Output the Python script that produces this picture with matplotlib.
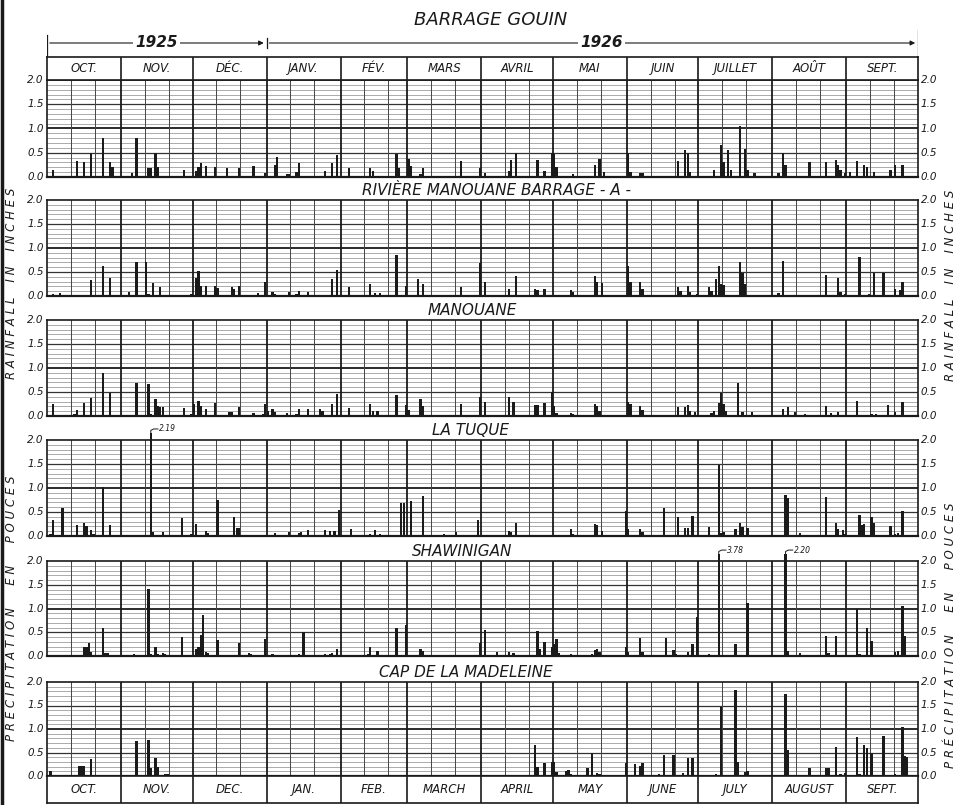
import numpy as np
import matplotlib
matplotlib.use('Agg')
import matplotlib.pyplot as plt

W, H = 964, 805

month_days = [31, 30, 31, 31, 28, 31, 30, 31, 30, 31, 31, 30]
months_fr = ['OCT.', 'NOV.', 'DÉC.', 'JANV.', 'FÉV.', 'MARS', 'AVRIL', 'MAI',
             'JUIN', 'JUILLET', 'AOÛT', 'SEPT.']
months_en = ['OCT.', 'NOV.', 'DEC.', 'JAN.', 'FEB.', 'MARCH', 'APRIL', 'MAY',
             'JUNE', 'JULY', 'AUGUST', 'SEPT.']
y_labels = ['0.0', '0.5', '1.0', '1.5', '2.0']

# daily rainfall (inches), (day counted from 1 Oct 1925, value)
gouin = [(2, .15), (12, .34), (15, .30), (18, .49), (23, .80), (26, .30), (27, .20),
         (35, .08), (37, .80), (42, .18), (43, .18), (45, .50), (46, .20), (57, .15),
         (62, .12), (63, .20), (64, .28), (66, .22), (70, .20), (75, .18), (80, .18), (86, .22),
         (91, .08), (95, .25), (96, .42), (100, .06), (101, .06), (104, .10), (105, .28),
         (116, .12), (119, .28), (121, .45), (126, .18), (135, .18), (136, .12), (146, .48),
         (147, .18), (151, .38), (152, .22), (156, .06), (157, .18), (173, .33), (181, .18),
         (183, .08), (193, .12), (194, .35), (196, .50), (205, .36), (208, .12), (211, .50),
         (212, .48), (213, .20), (220, .06), (229, .25), (231, .38), (233, .10), (243, .50),
         (244, .10), (248, .08), (249, .08), (264, .34), (267, .55), (268, .50), (269, .10),
         (279, .15), (282, .65), (283, .30), (285, .55), (286, .15), (290, 1.05), (292, .58),
         (293, .15), (296, .08), (306, .08), (308, .50), (309, .25), (319, .30), (326, .30),
         (330, .35), (331, .25), (332, .15), (334, .08), (336, .10), (339, .32), (342, .25),
         (343, .20), (346, .10), (353, .15), (355, .25), (358, .25)]

barrage_a = [(2, .05), (5, .06), (7, .03), (10, .02), (12, .02), (13, .02), (18, .33), (19, .03),
             (23, .62), (26, .38), (34, .08), (37, .70), (41, .70), (42, .05), (44, .27), (47, .18),
             (60, .05), (62, .38), (63, .52), (64, .20), (66, .20), (70, .20), (71, .16), (77, .18),
             (78, .15), (80, .20), (88, .06), (91, .30), (94, .08), (95, .05), (101, .08), (104, .05),
             (105, .10), (109, .08), (119, .35), (121, .55), (122, .03), (126, .18), (135, .25),
             (137, .06), (139, .06), (146, .85), (150, .20), (155, .35), (157, .25), (167, .02),
             (173, .18), (181, .68), (183, .30), (193, .15), (196, .42), (204, .15), (205, .12),
             (208, .14), (219, .13), (220, .08), (229, .42), (230, .30), (232, .28), (243, .62),
             (244, .30), (248, .30), (249, .15), (264, .18), (265, .10), (268, .20), (269, .08),
             (272, .05), (277, .18), (278, .10), (280, .35), (281, .62), (282, .25), (283, .22),
             (290, .70), (291, .48), (292, .25), (306, .07), (308, .72), (326, .43), (331, .38),
             (332, .08), (334, .05), (340, .82), (344, .05), (346, .47), (350, .47), (355, .15),
             (357, .12), (358, .30)]

manouane = [(2, .26), (10, .02), (11, .04), (12, .12), (15, .27), (18, .38), (23, .89), (26, .47),
            (34, .01), (37, .68), (42, .67), (43, .05), (45, .35), (46, .20), (47, .18), (48, .18),
            (57, .17), (60, .05), (61, .25), (63, .32), (64, .20), (66, .15), (70, .27), (76, .08),
            (77, .08), (80, .18), (86, .06), (90, .05), (91, .25), (92, .10), (94, .15), (95, .08),
            (100, .06), (104, .05), (105, .15), (109, .15), (114, .15), (115, .10), (119, .25),
            (121, .45), (126, .16), (135, .25), (136, .10), (138, .10), (146, .43), (150, .22),
            (151, .12), (156, .35), (157, .20), (173, .24), (181, .40), (183, .30), (193, .40),
            (195, .30), (204, .22), (205, .22), (208, .28), (211, .50), (212, .20), (213, .07),
            (219, .07), (220, .05), (229, .25), (230, .20), (231, .10), (234, .03), (243, .30),
            (244, .25), (248, .20), (249, .12), (264, .18), (267, .18), (268, .22), (269, .10),
            (271, .08), (278, .07), (279, .10), (281, .28), (282, .48), (283, .25), (284, .10),
            (289, .68), (291, .08), (295, .08), (308, .15), (310, .18), (313, .08), (317, .05),
            (326, .20), (328, .06), (331, .08), (339, .32), (345, .05), (347, .05), (352, .22),
            (355, .08), (358, .30)]

la_tuque = [(1, .05), (2, .33), (6, .58), (9, .02), (12, .22), (15, .27), (16, .20), (18, .12),
            (19, .05), (23, 1.03), (26, .22), (33, .02), (43, 2.19), (44, .08), (48, .08),
            (56, .37), (60, .04), (62, .26), (66, .10), (67, .06), (71, .76), (78, .40), (79, .17),
            (80, .16), (95, .06), (101, .08), (105, .06), (106, .08), (109, .12), (116, .12),
            (118, .10), (120, .10), (122, .55), (127, .15), (135, .05), (137, .12), (139, .05),
            (148, .68), (149, .68), (152, .73), (157, .83), (166, .05), (171, .08), (180, .33),
            (193, .10), (194, .08), (196, .27), (219, .15), (220, .05), (227, .03), (229, .25),
            (230, .22), (232, .10), (235, .02), (242, .52), (243, .15), (248, .15), (249, .08),
            (258, .58), (261, .03), (264, .40), (267, .16), (268, .16), (270, .42), (277, .18),
            (281, 1.47), (282, .06), (283, .08), (288, .15), (290, .28), (291, .18), (293, .16),
            (309, .85), (310, .80), (315, .06), (326, .82), (330, .28), (331, .15), (333, .12),
            (334, .05), (340, .43), (341, .22), (342, .25), (345, .40), (346, .28), (353, .20),
            (355, .05), (356, .06), (358, .53)]

shawinigan = [(1, .02), (3, .02), (5, .02), (7, .02), (15, .18), (16, .20), (17, .28), (18, .08),
              (19, .03), (23, .58), (24, .06), (25, .06), (33, .02), (36, .05), (42, 1.42),
              (43, .05), (45, .18), (46, .05), (48, .06), (49, .05), (52, .03), (56, .40),
              (62, .15), (63, .20), (64, .45), (65, .87), (66, .08), (67, .06), (71, .33), (77, .02),
              (80, .27), (84, .06), (85, .04), (91, .35), (94, .05), (101, .02), (103, .02),
              (105, .05), (107, .50), (108, .03), (110, .02), (112, .02), (116, .05), (118, .05),
              (119, .06), (121, .14), (124, .02), (125, .02), (134, .05), (135, .18), (138, .10),
              (146, .60), (150, .65), (151, .02), (156, .15), (157, .10), (164, .02), (168, .02),
              (174, .02), (181, .28), (183, .55), (188, .08), (189, .03), (193, .08), (195, .06),
              (196, .03), (205, .53), (206, .15), (208, .30), (211, .20), (212, .25), (213, .35),
              (214, .06), (219, .05), (228, .05), (229, .12), (230, .14), (231, .08), (236, .03),
              (242, .20), (243, .08), (248, .38), (249, .08), (259, .38), (262, .12), (263, .05),
              (268, .08), (270, .25), (272, .83), (277, .05), (281, 3.78), (288, .25), (293, 1.12),
              (295, .02), (300, .02), (309, 2.20), (310, .10), (315, .06), (318, .02), (326, .42),
              (327, .06), (330, .42), (332, .03), (334, .02), (339, .98), (340, .04), (343, .58),
              (345, .32), (355, .08), (356, .10), (358, 1.05), (359, .42)]

cap_madeleine = [(1, .10), (6, .03), (13, .22), (14, .22), (15, .22), (18, .37), (35, .02),
                 (37, .75), (42, .77), (43, .18), (45, .38), (46, .20), (49, .05), (50, .05),
                 (194, .02), (204, .66), (205, .20), (208, .28), (211, .30), (212, .30), (213, .08),
                 (217, .10), (218, .13), (219, .05), (226, .18), (228, .48), (230, .07), (231, .05),
                 (242, .27), (246, .25), (248, .22), (249, .28), (256, .05), (258, .45), (262, .45),
                 (266, .06), (268, .38), (270, .38), (277, .02), (279, .02), (280, .05), (282, 1.47),
                 (288, 1.82), (289, .30), (292, .08), (293, .10), (296, .03), (300, .02),
                 (309, 1.75), (310, .55), (315, .02), (319, .18), (326, .18), (327, .18), (330, .62),
                 (332, .04), (334, .06), (339, .82), (340, .05), (342, .65), (343, .60), (345, .48),
                 (350, .85), (353, .03), (355, .04), (358, 1.05), (359, .42), (360, .40)]

stations = ['BARRAGE GOUIN', 'RIVIÈRE MANOUANE BARRAGE - A -', 'MANOUANE',
            'LA TUQUE', 'SHAWINIGAN', 'CAP DE LA MADELEINE']
series = [gouin, barrage_a, manouane, la_tuque, shawinigan, cap_madeleine]

# layout in pixels
X0, X1 = 47, 918
tops = [80, 200, 320, 440, 561, 682]
bottoms = [177, 296, 416, 536, 656, 776]
title_x = [491, 497, 472, 471, 462, 466]

INK = '#1a1a1a'
plt.rcParams['font.family'] = 'DejaVu Sans'
plt.rcParams['font.style'] = 'italic'


def rect(x0, y0, x1, y1):
    return [x0 / W, 1 - y1 / H, (x1 - x0) / W, (y1 - y0) / H]


fig = plt.figure(figsize=(W / 100, H / 100), dpi=100)
fig.patch.set_facecolor('white')

bounds = np.concatenate([[0], np.cumsum(month_days)])
ndays = bounds[-1]
centers = (bounds[:-1] + bounds[1:]) / 2

for i, data in enumerate(series):
    ax = fig.add_axes(rect(X0, tops[i], X1, bottoms[i]))
    ax.set_xlim(0, ndays)
    ax.set_ylim(0, 2.0)
    ax.set_xticks([])
    ax.set_yticks([])
    for s in ax.spines.values():
        s.set_color(INK)
        s.set_linewidth(1.2)
    ax.spines['bottom'].set_linewidth(1.6)

    # ruled paper
    for k in range(1, 20):
        y = k / 10
        if k == 10:
            ax.axhline(y, color=INK, lw=1.3, zorder=1)
        elif k % 5 == 0:
            ax.axhline(y, color='#333333', lw=0.9, zorder=1)
        else:
            ax.axhline(y, color='#8a8a8a', lw=0.5, zorder=1)
    for b in bounds[1:-1]:
        ax.axvline(b, color=INK, lw=1.3, zorder=1)
    for b in bounds[:-1]:
        ax.axvline(b + 10, color='#444444', lw=0.7, zorder=1)
        ax.axvline(b + 20, color='#444444', lw=0.7, zorder=1)

    days = np.array([d for d, v in data])
    vals = np.array([v for d, v in data])
    ax.bar(days + 0.5, np.minimum(vals, 2.15), width=0.95, color=INK,
           zorder=3, clip_on=False)
    for d, v in data:
        if v > 2.0:
            xs = d + 0.5
            ax.plot([xs, xs, xs + 1.2, xs + 3], [2.15, 2.2, 2.23, 2.23],
                    color=INK, lw=0.7, clip_on=False, zorder=4)
            ax.text(xs + 3.5, 2.23, f'{v:.2f}', fontsize=5.5, va='center',
                    ha='left', color=INK)

    for k, lab in enumerate(y_labels):
        ax.text(-0.004, k * 0.5, lab, transform=ax.get_yaxis_transform(),
                ha='right', va='center', fontsize=7.5, color=INK)
        ax.text(1.003, k * 0.5, lab, transform=ax.get_yaxis_transform(),
                ha='left', va='center', fontsize=7.5, color=INK)

    if i == 0:
        fig.text(title_x[i] / W, 1 - 20 / H, stations[i], ha='center',
                 va='center', fontsize=13, color=INK)
    else:
        fig.text(title_x[i] / W, 1 - (tops[i] - 2) / H, stations[i], ha='center',
                 va='bottom', fontsize=11, color=INK)

# month header boxes
for (y0, y1, names) in [(57, 80, months_fr), (776, 803, months_en)]:
    hx = fig.add_axes(rect(X0, y0, X1, y1))
    hx.set_xlim(0, ndays)
    hx.set_ylim(0, 1)
    hx.set_xticks([])
    hx.set_yticks([])
    for s in hx.spines.values():
        s.set_color(INK)
        s.set_linewidth(1.2)
    for b in bounds[1:-1]:
        hx.axvline(b, color=INK, lw=1.2)
    for c, n in zip(centers, names):
        hx.text(c, 0.5, n, ha='center', va='center', fontsize=8.5, color=INK)

# year arrows
yr = fig.add_axes(rect(X0, 28, X1, 57))
yr.set_xlim(0, ndays)
yr.set_ylim(0, 29)
yr.axis('off')
jan1 = bounds[3]
yr.annotate('', xy=(0, 14), xytext=(jan1, 14),
            arrowprops=dict(arrowstyle='<|-', color=INK, lw=0.8, mutation_scale=7))
yr.annotate('', xy=(ndays, 14), xytext=(jan1, 14),
            arrowprops=dict(arrowstyle='-|>', color=INK, lw=0.8, mutation_scale=7))
yr.plot([0, 0], [0, 22], color=INK, lw=0.9)
yr.plot([jan1, jan1], [9, 19], color=INK, lw=0.9)
yr.plot([ndays, ndays], [0, 27], color=INK, lw=0.9)
yr.text(jan1 / 2, 14, '1925', ha='center', va='center', fontsize=11,
        fontweight='bold', color=INK,
        bbox=dict(facecolor='white', edgecolor='none', pad=1.5))
yr.text((jan1 + ndays) / 2 + 4, 14, '1926', ha='center', va='center', fontsize=11,
        fontweight='bold', color=INK,
        bbox=dict(facecolor='white', edgecolor='none', pad=1.5))

# side labels
side_kw = dict(rotation=90, ha='center', va='center', fontsize=8.5, color=INK)
fig.text(12 / W, 1 - 283 / H, 'R A I N F A L L    I N    I N C H E S', **side_kw)
fig.text(12 / W, 1 - 608 / H, 'P R É C I P I T A T I O N      E N      P O U C E S', **side_kw)
fig.text(951 / W, 1 - 285 / H, 'R A I N F A L L    I N    I N C H E S', **side_kw)
fig.text(951 / W, 1 - 635 / H, 'P R É C I P I T A T I O N      E N      P O U C E S', **side_kw)

# dark scan edge on the left
fig.add_artist(plt.Line2D([0.002, 0.002], [0, 1], color=INK, lw=2.5,
                          transform=fig.transFigure))

fig.savefig('out.png', dpi=100, facecolor='white')
